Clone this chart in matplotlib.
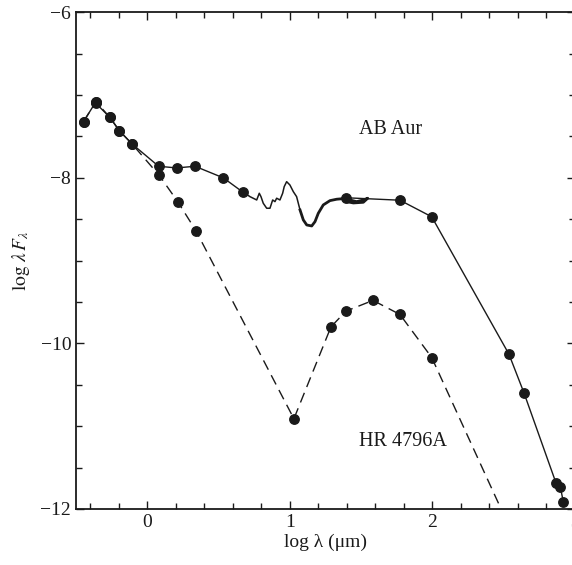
import matplotlib
matplotlib.use("Agg")
import matplotlib.pyplot as plt
from matplotlib.ticker import MultipleLocator

plt.rcParams['font.family'] = ['Liberation Serif', 'DejaVu Serif']
plt.rcParams['mathtext.fontset'] = 'stix'

# AB Aur photometry (log wavelength in micron, log lambda F_lambda)
ab_short_x = [-0.447, -0.36, -0.36, -0.262, -0.196, -0.107, 0.080, 0.206, 0.335, 0.534, 0.669]
ab_short_y = [-7.32, -7.08, -7.10, -7.27, -7.43, -7.59, -7.86, -7.88, -7.86, -8.00, -8.17]
ab_long_x = [1.392, 1.773, 1.996, 2.538, 2.644, 2.869, 2.898, 2.919]
ab_long_y = [-8.24, -8.27, -8.47, -10.13, -10.60, -11.69, -11.73, -11.91]

# AB Aur spectrum
spec_x = [0.669, 0.721, 0.768, 0.786, 0.798, 0.814, 0.838, 0.861, 0.880, 0.896,
          0.908, 0.931, 0.950, 0.961, 0.978, 1.001, 1.025, 1.048, 1.072]
spec_y = [-8.167, -8.227, -8.267, -8.186, -8.227, -8.307, -8.367, -8.367, -8.267, -8.287,
          -8.246, -8.267, -8.186, -8.106, -8.046, -8.086, -8.167, -8.227, -8.388]
spec2_x = [1.072, 1.095, 1.119, 1.154, 1.177, 1.200, 1.235, 1.282, 1.329, 1.375,
           1.422, 1.469, 1.516, 1.547, 1.516, 1.446, 1.399]
spec2_y = [-8.388, -8.508, -8.569, -8.581, -8.529, -8.428, -8.327, -8.275, -8.258, -8.251,
           -8.267, -8.287, -8.267, -8.246, -8.295, -8.303, -8.287]

# HR 4796A photometry
hr_x = [-0.447, -0.36, -0.262, -0.196, -0.107, 0.084, 0.215, 0.342, 1.029,
        1.289, 1.394, 1.584, 1.773, 1.996]
hr_y = [-7.32, -7.08, -7.27, -7.43, -7.59, -7.97, -8.29, -8.64, -10.91,
        -9.80, -9.61, -9.48, -9.65, -10.17]
# Rayleigh-Jeans continuation beyond the last point
hr_tail_x = [1.996, 2.60]
hr_tail_y = [-10.17, -12.44]

ink = '#1a1a1a'

fig = plt.figure(figsize=(5.72, 5.65), dpi=100)
ax = fig.add_axes([76 / 572, 1 - 509 / 565, (574.8 - 76) / 572, (509 - 12.3) / 565])

ax.plot(hr_x, hr_y, color=ink, lw=1.0, ls=(0, (7.5, 4.5)), marker='o', ms=6.8,
        markerfacecolor=ink, markeredgecolor=ink)
ax.plot(hr_tail_x, hr_tail_y, color=ink, lw=1.0, ls=(0, (7.5, 4.5)))

ax.plot(ab_short_x, ab_short_y, color=ink, lw=1.0, marker='o', ms=6.8,
        markerfacecolor=ink, markeredgecolor=ink)
ax.plot(spec_x, spec_y, color=ink, lw=1.1)
ax.plot(spec2_x, spec2_y, color=ink, lw=2.0, solid_joinstyle='round')
ax.plot(ab_long_x, ab_long_y, color=ink, lw=1.0, marker='o', ms=6.8,
        markerfacecolor=ink, markeredgecolor=ink)

ax.text(1.71, -7.415, 'AB Aur', ha='center', va='center', fontsize=14.5, color=ink)
ax.text(1.793, -11.19, 'HR 4796A', ha='center', va='center', fontsize=14.5, color=ink)

ax.set_xlim(-0.5, 3.0)
ax.set_ylim(-12, -6)
ax.xaxis.set_major_locator(MultipleLocator(1))
ax.xaxis.set_minor_locator(MultipleLocator(0.2))
ax.yaxis.set_major_locator(MultipleLocator(2))
ax.yaxis.set_minor_locator(MultipleLocator(0.5))
ax.tick_params(which='both', direction='in', top=True, right=True, colors=ink,
               labelsize=14, width=1.0)
ax.tick_params(which='major', length=6)
ax.tick_params(which='minor', length=4)
for s in ax.spines.values():
    s.set_linewidth(1.3)
    s.set_color(ink)

ax.set_xlabel('log λ (μm)', fontsize=14, color=ink, labelpad=2)
ax.set_ylabel(r'$\mathrm{log}\ \lambda\, F_{\lambda}$', fontsize=14, color=ink, labelpad=6)

fig.savefig('out.png', dpi=100)
